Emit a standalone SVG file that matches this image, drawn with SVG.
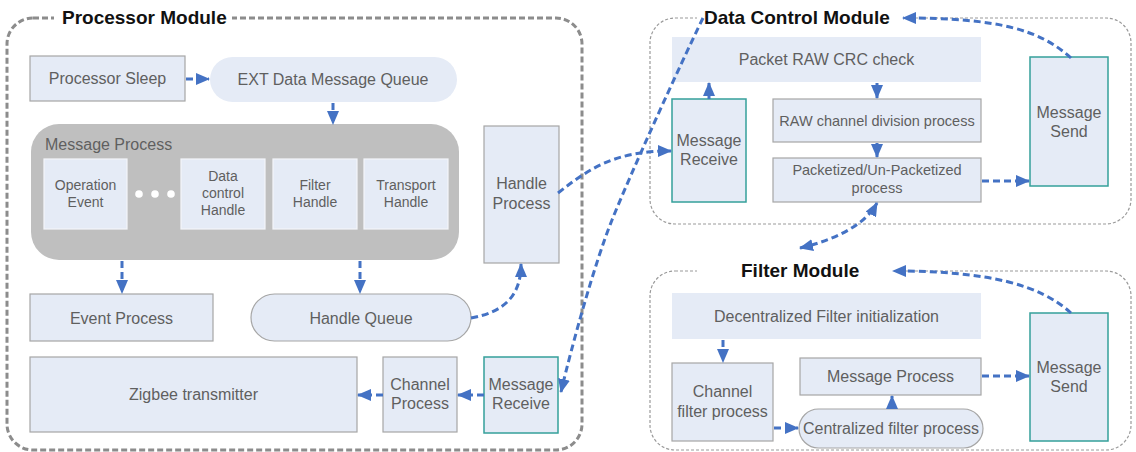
<svg xmlns="http://www.w3.org/2000/svg" width="1136" height="452" viewBox="0 0 1136 452">
  <defs>
    <marker id="arrow" viewBox="0 0 14 12" refX="13" refY="6" markerWidth="14" markerHeight="12" markerUnits="userSpaceOnUse" orient="auto-start-reverse">
      <path d="M0,0 L14,6 L0,12 Z" fill="#4472C4"/>
    </marker>
    <style>
      .module { fill: none; }
      .proc-mod { stroke: #8c8c8c; stroke-width: 3; stroke-dasharray: 6 3; }
      .sub-mod { stroke: #9a9a9a; stroke-width: 1.2; stroke-dasharray: 3 2; }
      .title { font-family: "Liberation Sans", Arial, sans-serif; font-weight: bold; font-size: 19px; fill: #111; }
      .box { fill: #E5EBF6; stroke: #A6A6A6; stroke-width: 1.2; }
      .plain { fill: #E5EBF6; stroke: none; }
      .inner { fill: #E5EBF6; stroke: #F4F6FA; stroke-width: 1.2; }
      .teal { fill: #E5EBF6; stroke: #35A09A; stroke-width: 1.5; }
      .label { font-family: "Liberation Sans", Arial, sans-serif; font-size: 16px; fill: #5f5f5f; text-anchor: middle; }
      .small { font-size: 14px; }
      .mid { font-size: 14.5px; }
      .conn { fill: none; stroke: #4472C4; stroke-width: 3; stroke-dasharray: 7 4; marker-end: url(#arrow); }
    </style>
  </defs>

  <rect width="1136" height="452" fill="#ffffff"/>

  <!-- module frames -->
  <g id="processor-module">
    <rect class="module proc-mod" x="7" y="18" width="575" height="432" rx="26"/>
    <rect x="54" y="8" width="178" height="20" fill="#ffffff"/>
    <text class="title" x="62" y="24">Processor Module</text>
  </g>
  <g id="data-control-module">
    <rect class="module sub-mod" x="650" y="18" width="481" height="206" rx="25"/>
    <rect x="697" y="8" width="206" height="20" fill="#ffffff"/>
    <text class="title" x="704" y="24">Data Control Module</text>
  </g>
  <g id="filter-module">
    <rect class="module sub-mod" x="650" y="271" width="481" height="179" rx="25"/>
    <rect x="697" y="260" width="196" height="20" fill="#ffffff"/>
    <text class="title" x="741" y="277">Filter Module</text>
  </g>

  <!-- processor module nodes -->
  <g id="processor-sleep">
    <rect class="box" x="30" y="56" width="155" height="45"/>
    <text class="label" x="107.5" y="84">Processor Sleep</text>
  </g>
  <g id="ext-data-queue">
    <rect class="plain" x="210" y="57" width="247" height="45" rx="22.5"/>
    <text class="label" x="333" y="85">EXT Data Message Queue</text>
  </g>
  <g id="message-process">
    <rect x="31" y="124" width="428" height="136" rx="28" fill="#BFBFBF"/>
    <text class="label" x="45" y="150" text-anchor="start" style="text-anchor:start">Message Process</text>
    <g id="operation-event">
      <rect class="inner" x="44" y="159" width="83" height="70"/>
      <text class="label small" x="85.5" y="190">Operation</text>
      <text class="label small" x="85.5" y="207">Event</text>
    </g>
    <g id="ellipsis" fill="#ffffff">
      <circle cx="139" cy="194" r="3.8"/>
      <circle cx="155" cy="194" r="3.8"/>
      <circle cx="171" cy="194" r="3.8"/>
    </g>
    <g id="data-control-handle">
      <rect class="inner" x="181" y="159" width="84" height="70"/>
      <text class="label small" x="223" y="181">Data</text>
      <text class="label small" x="223" y="198">control</text>
      <text class="label small" x="223" y="215">Handle</text>
    </g>
    <g id="filter-handle">
      <rect class="inner" x="273" y="159" width="84" height="70"/>
      <text class="label small" x="315" y="190">Filter</text>
      <text class="label small" x="315" y="207">Handle</text>
    </g>
    <g id="transport-handle">
      <rect class="inner" x="364" y="159" width="84" height="70"/>
      <text class="label small" x="406" y="190">Transport</text>
      <text class="label small" x="406" y="207">Handle</text>
    </g>
  </g>
  <g id="handle-process">
    <rect class="box" x="484" y="126" width="75" height="137"/>
    <text class="label" x="521.5" y="189">Handle</text>
    <text class="label" x="521.5" y="209">Process</text>
  </g>
  <g id="event-process">
    <rect class="box" x="30" y="294" width="183" height="47"/>
    <text class="label" x="121.5" y="324">Event Process</text>
  </g>
  <g id="handle-queue">
    <rect class="box" x="251" y="294" width="220" height="47" rx="23.5"/>
    <text class="label" x="361" y="324">Handle Queue</text>
  </g>
  <g id="zigbee-transmitter">
    <rect class="box" x="30" y="357" width="327" height="75"/>
    <text class="label" x="193.5" y="400">Zigbee transmitter</text>
  </g>
  <g id="channel-process">
    <rect class="box" x="383" y="357" width="74" height="75"/>
    <text class="label" x="420" y="390">Channel</text>
    <text class="label" x="420" y="409">Process</text>
  </g>
  <g id="processor-message-receive">
    <rect class="teal" x="484" y="357" width="74" height="76"/>
    <text class="label" x="521" y="390">Message</text>
    <text class="label" x="521" y="409">Receive</text>
  </g>

  <!-- data control module nodes -->
  <g id="packet-crc-check">
    <rect class="plain" x="672" y="37" width="309" height="45"/>
    <text class="label" x="826.5" y="65">Packet RAW CRC check</text>
  </g>
  <g id="dc-message-receive">
    <rect class="teal" x="672" y="99" width="74" height="103"/>
    <text class="label" x="709" y="146">Message</text>
    <text class="label" x="709" y="165">Receive</text>
  </g>
  <g id="raw-channel-division">
    <rect class="box" x="773" y="99" width="208" height="43"/>
    <text class="label mid" x="877" y="126">RAW channel division process</text>
  </g>
  <g id="packetized-process">
    <rect class="box" x="773" y="158" width="208" height="44"/>
    <text class="label mid" x="877" y="175">Packetized/Un-Packetized</text>
    <text class="label mid" x="877" y="193">process</text>
  </g>
  <g id="dc-message-send">
    <rect class="teal" x="1030" y="57" width="78" height="129"/>
    <text class="label" x="1069" y="118">Message</text>
    <text class="label" x="1069" y="137">Send</text>
  </g>

  <!-- filter module nodes -->
  <g id="decentralized-filter-init">
    <rect class="plain" x="672" y="293" width="309" height="46"/>
    <text class="label" x="826.5" y="322">Decentralized Filter initialization</text>
  </g>
  <g id="channel-filter-process">
    <rect class="box" x="672" y="363" width="101" height="78"/>
    <text class="label" x="722.5" y="397">Channel</text>
    <text class="label" x="722.5" y="417">filter process</text>
  </g>
  <g id="filter-message-process">
    <rect class="box" x="800" y="358" width="181" height="37"/>
    <text class="label" x="890.5" y="382">Message Process</text>
  </g>
  <g id="centralized-filter-process">
    <rect class="box" x="799" y="409" width="184" height="39" rx="19.5"/>
    <text class="label" x="891" y="434">Centralized filter process</text>
  </g>
  <g id="filter-message-send">
    <rect class="teal" x="1030" y="313" width="78" height="128"/>
    <text class="label" x="1069" y="373">Message</text>
    <text class="label" x="1069" y="392">Send</text>
  </g>

  <!-- connectors -->
  <g id="connectors">
    <path class="conn" d="M186,79 L209,79"/>
    <path class="conn" d="M333,103 L333,124"/>
    <path class="conn" d="M122,261 L122,293"/>
    <path class="conn" d="M360,261 L360,293"/>
    <path class="conn" d="M471,318 C505,312 521,295 521,264"/>
    <path class="conn" d="M484,395 L458,395"/>
    <path class="conn" d="M383,395 L358,395"/>
    <path class="conn" d="M703,18 C680,65 630,175 612,220 C595,262 572,345 561,392"/>
    <path class="conn" d="M558,193 C590,168 615,151 671,151"/>
    <path class="conn" d="M709,99 L709,83"/>
    <path class="conn" d="M877,83 L877,98"/>
    <path class="conn" d="M877,143 L877,157"/>
    <path class="conn" d="M982,181 L1029,181"/>
    <path class="conn" d="M1071,58 C1040,30 1000,18 903,18"/>
    <path class="conn" d="M800,248 C835,240 865,225 877,203" style="marker-start:url(#arrow)"/>
    <path class="conn" d="M1071,313 C1040,285 990,271 893,271"/>
    <path class="conn" d="M723,340 L723,362"/>
    <path class="conn" d="M774,428 L798,428"/>
    <path class="conn" d="M892,409 L892,396"/>
    <path class="conn" d="M982,376 L1029,376"/>
  </g>
</svg>
